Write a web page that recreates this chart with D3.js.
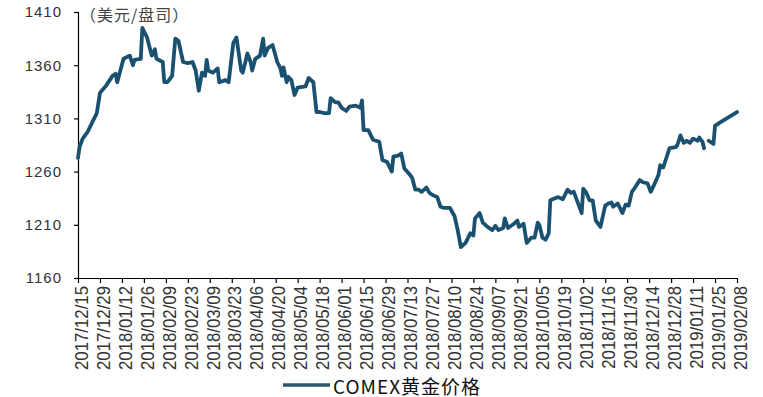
<!DOCTYPE html>
<html lang="zh">
<head>
    <meta charset="UTF-8">
    <title>COMEX黄金价格</title>
    <style>
        body { margin: 0; background: #fff; }
        svg { display: block; }
        text { font-family: "Liberation Sans", Arial, sans-serif; }
        .cjk { font-family: "Noto Sans CJK SC", "Liberation Sans", sans-serif; }
    </style>
</head>
<body>
    <div id="chart"></div>
    <script src="https://d3js.org/d3.v7.min.js"></script>
    <script>
    // dates are day offsets from the first label (2017/12/15), prices in USD/oz
    const startDate = "2017/12/15";
    const dayOffsets = [
        0, 1, 3, 6, 9, 12, 14, 18, 22, 24, 25, 29, 33, 35, 36, 40, 41, 44, 47, 49,
        50, 54, 55, 57, 60, 62, 64, 67, 70, 73, 75, 77, 79, 81, 82, 83, 86, 89, 90, 94,
        96, 99, 101, 104, 105, 108, 110, 111, 113, 116, 118, 119, 121, 124, 127, 129, 130, 131, 133, 134,
        136, 138, 140, 145, 147, 150, 152, 154, 157, 160, 161, 164, 166, 168, 171, 173, 177, 180, 181, 182,
        185, 188, 192, 194, 197, 200, 201, 204, 206, 208, 211, 213, 215, 217, 219, 222, 224, 226, 229, 231,
        233, 237, 240, 242, 244, 247, 250, 252, 253, 256, 258, 261, 264, 266, 268, 271, 272, 274, 277, 280,
        281, 284, 286, 289, 291, 293, 294, 296, 298, 300, 301, 304, 306, 309, 312, 314, 316, 318, 321, 322,
        324, 326, 328, 330, 333, 336, 338, 340, 341, 344, 347, 349, 351, 353, 355, 358, 360, 363, 365, 367,
        370, 371, 373, 375, 377, 381, 382, 384, 386, 388, 390, 392, 395, 396, 398, 399, 400, 402, 405, 406,
        409, 420
    ];
    const prices = [
        1273, 1283, 1291, 1297, 1306, 1315, 1334, 1341, 1350, 1352, 1344, 1366, 1369, 1360, 1365, 1366, 1395, 1386, 1369, 1375,
        1366, 1363, 1344, 1344, 1350, 1385, 1383, 1363, 1362, 1363, 1355, 1336, 1353, 1350, 1365, 1355, 1353, 1357, 1344, 1346,
        1344, 1381, 1386, 1355, 1353, 1371, 1363, 1355, 1366, 1369, 1385, 1369, 1376, 1379, 1363, 1357, 1350, 1358, 1344, 1349,
        1346, 1332, 1339, 1340, 1348, 1344, 1316, 1316, 1315, 1315, 1329, 1325, 1325, 1320, 1317, 1321, 1322, 1320, 1327, 1299,
        1299, 1290, 1288, 1271, 1269, 1260, 1274, 1275, 1277, 1263, 1258, 1254, 1243, 1243, 1241, 1245, 1240, 1238, 1236, 1227,
        1226, 1226, 1218, 1205, 1189, 1193, 1202, 1200, 1216, 1221, 1212, 1208, 1205, 1209, 1205, 1207, 1216, 1207, 1210, 1214,
        1208, 1211, 1193, 1198, 1198, 1212, 1210, 1198, 1196, 1202, 1233, 1235, 1236, 1234, 1243, 1240, 1241, 1233, 1221, 1244,
        1240, 1233, 1233, 1214, 1208, 1228, 1230, 1231, 1227, 1230, 1221, 1229, 1228, 1241, 1245, 1252, 1250, 1249, 1241, 1247,
        1257, 1266, 1264, 1273, 1282, 1283, 1285, 1294, 1287, 1289, 1287, 1291, 1289, 1292, 1288, 1282, null, 1289, 1286, 1303,
        1306, 1316
    ];
    const tickLabels = [
        "2017/12/15", "2017/12/29", "2018/01/12", "2018/01/26", "2018/02/09", "2018/02/23",
        "2018/03/09", "2018/03/23", "2018/04/06", "2018/04/20", "2018/05/04", "2018/05/18",
        "2018/06/01", "2018/06/15", "2018/06/29", "2018/07/13", "2018/07/27", "2018/08/10",
        "2018/08/24", "2018/09/07", "2018/09/21", "2018/10/05", "2018/10/19", "2018/11/02",
        "2018/11/16", "2018/11/30", "2018/12/14", "2018/12/28", "2019/01/11", "2019/01/25",
        "2019/02/08"
    ];
    const yTicks = [1160, 1210, 1260, 1310, 1360, 1410];
    const unitLabel = "（美元/盘司）";
    const seriesName = "COMEX黄金价格";

    const width = 763, height = 397;
    const margin = {top: 12, right: 26, bottom: 119, left: 78};
    const lineColor = "#1b5170";

    const parseDate = d3.timeParse("%Y/%m/%d");
    const fmt = d3.timeFormat("%Y/%m/%d");
    const t0 = parseDate(startDate);
    const data = dayOffsets.map((d, i) => ({date: d3.timeDay.offset(t0, d), value: prices[i]}));
    const tickDates = tickLabels.map(parseDate);

    const x = d3.scaleTime()
        .domain(d3.extent(tickDates))
        .range([margin.left, width - margin.right]);

    const y = d3.scaleLinear()
        .domain([1160, 1410])
        .range([height - margin.bottom, margin.top]);

    const svg = d3.select("#chart").append("svg")
        .attr("width", width)
        .attr("height", height);

    // y axis
    const yAxis = svg.append("g")
        .attr("transform", `translate(${margin.left},0)`)
        .call(d3.axisLeft(y).tickValues(yTicks).tickSize(4).tickPadding(12).tickFormat(d3.format("d")));
    yAxis.select(".domain").attr("stroke", "#000").attr("stroke-width", 1.2);
    yAxis.selectAll(".tick line").attr("stroke", "#000").attr("stroke-width", 1.2);
    yAxis.selectAll(".tick text")
        .attr("fill", "#333")
        .style("font-size", "15px")
        .style("letter-spacing", "1px")
        .style("font-family", "'Liberation Sans', Arial, sans-serif");

    // x axis
    const xAxis = svg.append("g")
        .attr("transform", `translate(0,${height - margin.bottom})`)
        .call(d3.axisBottom(x).tickValues(tickDates).tickSize(5).tickSizeOuter(0).tickFormat(fmt));
    xAxis.select(".domain").attr("stroke", "#000").attr("stroke-width", 1.2);
    xAxis.selectAll(".tick line").attr("stroke", "#000").attr("stroke-width", 1.2);
    xAxis.selectAll(".tick text")
        .attr("fill", "#333")
        .attr("text-anchor", "end")
        .attr("dy", null)
        .attr("y", null)
        .attr("transform", "translate(3,8) rotate(-90) scale(1,1.08)")
        .attr("dominant-baseline", "central")
        .style("font-size", "16.8px")
        .style("font-family", "'Liberation Sans', Arial, sans-serif");

    // unit label
    svg.append("text")
        .attr("class", "cjk")
        .attr("x", margin.left + 2)
        .attr("y", margin.top + 2)
        .attr("dominant-baseline", "central")
        .attr("fill", "#444")
        .style("font-size", "16px")
        .style("letter-spacing", "1px")
        .text(unitLabel);

    // price line
    const line = d3.line()
        .defined(d => d.value !== null)
        .x(d => x(d.date))
        .y(d => y(d.value));

    svg.append("path")
        .datum(data)
        .attr("fill", "none")
        .attr("stroke", lineColor)
        .attr("stroke-width", 3.8)
        .attr("stroke-linejoin", "round")
        .attr("stroke-linecap", "round")
        .attr("d", line);

    // legend
    const legend = svg.append("g").attr("transform", "translate(283,385)");
    legend.append("line")
        .attr("x1", 0).attr("x2", 47)
        .attr("stroke", "#2c5768")
        .attr("stroke-width", 3.5);
    legend.append("text")
        .attr("class", "cjk")
        .attr("x", 50)
        .attr("dominant-baseline", "central")
        .attr("fill", "#111")
        .style("font-size", "19px")
        .style("letter-spacing", "1px")
        .text(seriesName);
    </script>
</body>
</html>
